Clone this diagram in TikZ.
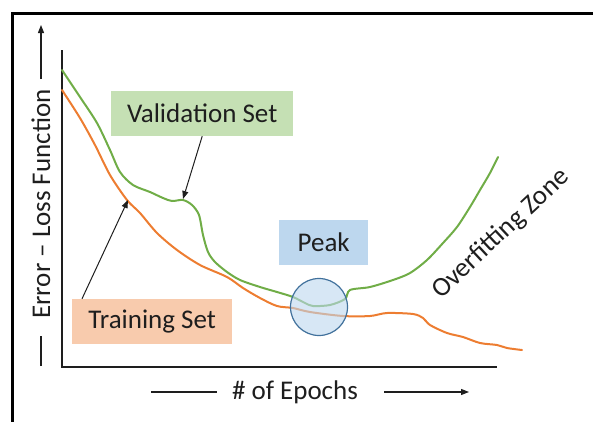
\documentclass[tikz,border=0pt]{standalone}
\usepackage{fontspec}
\setmainfont{Carlito}
\usetikzlibrary{arrows.meta}

\definecolor{valgreen}{HTML}{70AD47}
\definecolor{trainorange}{HTML}{ED7D31}
\definecolor{valfill}{HTML}{C5E0B4}
\definecolor{trainfill}{HTML}{F8CBAD}
\definecolor{peakfill}{HTML}{BDD7EE}
\definecolor{peakline}{HTML}{41719C}
\definecolor{inkdark}{HTML}{1E1E1E}

\tikzset{
  labelbox/.style={minimum height=45pt, inner xsep=12pt, inner ysep=0pt,
    align=left, anchor=west, text=inkdark},
  plaintext/.style={text=inkdark, inner sep=0pt},
  pointer/.style={draw=inkdark, line width=1pt, -{Triangle[length=8pt,width=6pt]}},
  axisline/.style={draw=inkdark, line width=1.6pt},
  curve/.style={line width=2pt, line join=round, line cap=round},
}

\begin{document}
\begin{tikzpicture}[x=1pt, y=-1pt, font=\fontsize{27}{30}\selectfont]
  \useasboundingbox (0,0) rectangle (593,421);

  % outer frame, running off the right and bottom edges
  \draw[line width=3pt, black] (12,425) -- (12,13) -- (597,13);

  % axes
  \coordinate (origin) at (62,367);
  \coordinate (ytop) at (62,50);
  \coordinate (xend) at (497,367);
  \draw[axisline] (ytop) -- (origin) -- (xend);

  % training curve
  \draw[curve, trainorange] plot[smooth, tension=0.5] coordinates {
    (62,90) (80,118) (95,145) (110,175) (127,200) (140,213) (157,233)
    (177,250) (200,265) (227,277) (243,288) (260,298) (277,306) (293,308)
    (310,312) (343,316) (370,316) (387,313) (413,314) (423,318) (430,325)
    (447,333) (463,337) (480,343) (497,345) (507,348) (522,350)};

  % validation curve
  \draw[curve, valgreen] plot[smooth, tension=0.5] coordinates {
    (62,70) (80,97) (97,123) (110,150) (120,172) (133,185) (150,192)
    (163,198) (172,201) (183,200) (192,205) (199,215) (203,235) (208,252)
    (215,262) (227,272) (240,280) (260,287) (277,292) (293,297) (305,303)
    (313,306) (330,305) (345,299) (350,290) (370,287) (393,280) (410,273)
    (427,260) (443,243) (457,227) (470,207) (480,190) (490,173) (498,157)};

  % highlighted minimum
  \node[circle, minimum size=57pt, inner sep=0pt, draw=peakline, line width=1.2pt,
        fill=peakfill, fill opacity=0.6] (peakc) at (319,307) {};

  % label boxes
  \node[labelbox, fill=valfill, minimum width=182pt] (vbox) at (111,113.5) {Validation Set};
  \node[labelbox, fill=trainfill, minimum width=160pt] (tbox) at (72,321.5) {Training Set};
  \node[labelbox, fill=peakfill, minimum width=89pt] (pbox) at (279,242.5) {Peak};

  % pointers from the labels to the curves
  \coordinate (vtip) at (183,199);
  \coordinate (ttip) at (128,200);
  \draw[pointer] (vbox.south) -- (vtip);
  \draw[pointer] ([xshift=10pt]tbox.north west) -- (ttip);

  % zone label
  \node[plaintext, rotate=43] (zone) at (501,234) {Overfitting Zone};

  % y axis caption
  \node[plaintext, rotate=90] (ylab) at (41,204) {Error -- Loss Function};
  \coordinate (ylow1) at (41,366);
  \coordinate (ylow2) at (41,336);
  \coordinate (yup1) at (41,79);
  \coordinate (yup2) at (41,25);
  \draw[draw=inkdark, line width=1.2pt] (ylow1) -- (ylow2);
  \draw[pointer, line width=1.2pt] (yup1) -- (yup2);

  % x axis caption
  \node[plaintext] (xlab) at (295,392) {\# of Epochs};
  \coordinate (xl1) at (151,392);
  \coordinate (xl2) at (217,392);
  \coordinate (xr1) at (384,392);
  \coordinate (xr2) at (469,392);
  \draw[draw=inkdark, line width=1.2pt] (xl1) -- (xl2);
  \draw[pointer, line width=1.2pt] (xr1) -- (xr2);
\end{tikzpicture}
\end{document}
